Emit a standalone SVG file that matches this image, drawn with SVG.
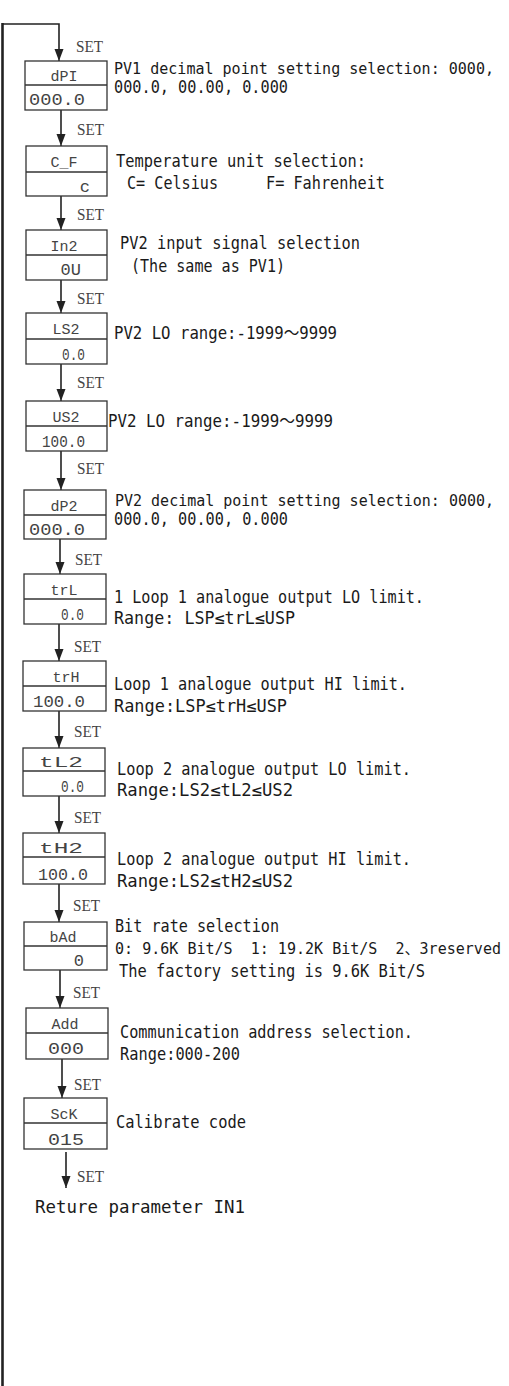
<svg xmlns="http://www.w3.org/2000/svg" width="509" height="1386" viewBox="0 0 509 1386">
<style>
.box{fill:#fff;stroke:#333;stroke-width:1.3}
.div{stroke:#333;stroke-width:1.3}
.con{fill:none;stroke:#222;stroke-width:1.6}
.set{font-family:"Liberation Serif",serif;font-size:17px;fill:#444}
.t{font-family:"DejaVu Sans Mono","Noto Sans CJK SC",monospace;font-size:17px;fill:#1a1a1a;white-space:pre}
.long{font-size:15.5px}
.lbl{font-family:"Liberation Mono",monospace;font-size:15px;fill:#444;text-anchor:middle}
.val{font-family:"Liberation Mono",monospace;font-size:17px;fill:#444;text-anchor:end}
</style>
<defs>
<marker id="ah" markerUnits="userSpaceOnUse" markerWidth="10" markerHeight="13" refX="12" refY="5" orient="auto">
<path d="M0,0.5 L12,5 L0,9.5 Z" fill="#222"/>
</marker>
</defs>
<g id="connectors">
<line x1="2.5" y1="23" x2="2.5" y2="1386" stroke="#222" stroke-width="2.6"/>
<path class="con" d="M2,24 H59 V61" marker-end="url(#ah)"/>
<line class="con" x1="61" y1="110" x2="61" y2="146" marker-end="url(#ah)"/>
<line class="con" x1="61" y1="196" x2="61" y2="230" marker-end="url(#ah)"/>
<line class="con" x1="61" y1="280" x2="61" y2="313" marker-end="url(#ah)"/>
<line class="con" x1="61" y1="364" x2="61" y2="401" marker-end="url(#ah)"/>
<line class="con" x1="61" y1="451" x2="61" y2="490" marker-end="url(#ah)"/>
<line class="con" x1="60" y1="539" x2="60" y2="574" marker-end="url(#ah)"/>
<line class="con" x1="59" y1="624" x2="59" y2="661" marker-end="url(#ah)"/>
<line class="con" x1="59" y1="711" x2="59" y2="748" marker-end="url(#ah)"/>
<line class="con" x1="59" y1="796" x2="59" y2="833" marker-end="url(#ah)"/>
<line class="con" x1="59" y1="884" x2="59" y2="922" marker-end="url(#ah)"/>
<line class="con" x1="60" y1="970" x2="60" y2="1008" marker-end="url(#ah)"/>
<line class="con" x1="62" y1="1059" x2="62" y2="1098" marker-end="url(#ah)"/>
<line class="con" x1="66" y1="1152" x2="66" y2="1188" marker-end="url(#ah)"/>
<text class="set" x="76" y="52" textLength="27" lengthAdjust="spacingAndGlyphs">SET</text>
<text class="set" x="77" y="135" textLength="27" lengthAdjust="spacingAndGlyphs">SET</text>
<text class="set" x="77" y="220" textLength="27" lengthAdjust="spacingAndGlyphs">SET</text>
<text class="set" x="77" y="304" textLength="27" lengthAdjust="spacingAndGlyphs">SET</text>
<text class="set" x="77" y="388" textLength="27" lengthAdjust="spacingAndGlyphs">SET</text>
<text class="set" x="77" y="474" textLength="27" lengthAdjust="spacingAndGlyphs">SET</text>
<text class="set" x="75" y="565" textLength="27" lengthAdjust="spacingAndGlyphs">SET</text>
<text class="set" x="74" y="652" textLength="27" lengthAdjust="spacingAndGlyphs">SET</text>
<text class="set" x="74" y="737" textLength="27" lengthAdjust="spacingAndGlyphs">SET</text>
<text class="set" x="74" y="823" textLength="27" lengthAdjust="spacingAndGlyphs">SET</text>
<text class="set" x="73" y="911" textLength="27" lengthAdjust="spacingAndGlyphs">SET</text>
<text class="set" x="73" y="998" textLength="27" lengthAdjust="spacingAndGlyphs">SET</text>
<text class="set" x="74" y="1090" textLength="27" lengthAdjust="spacingAndGlyphs">SET</text>
<text class="set" x="77" y="1182" textLength="27" lengthAdjust="spacingAndGlyphs">SET</text>
</g>
<g id="n-dPI">
<rect class="box" x="25" y="61" width="82" height="49"/><line class="div" x1="25" y1="85" x2="107" y2="85"/>
<text class="lbl" x="64" y="81">dPI</text><text class="val" x="85" y="105" textLength="56" lengthAdjust="spacingAndGlyphs">000.0</text>
<text class="t long" x="114" y="74" textLength="380" lengthAdjust="spacingAndGlyphs">PV1 decimal point setting selection: 0000,</text>
<text class="t" x="114" y="93" textLength="174" lengthAdjust="spacingAndGlyphs">000.0, 00.00, 0.000</text>
</g>
<g id="n-CF">
<rect class="box" x="26" y="146" width="81" height="50"/><line class="div" x1="26" y1="172" x2="107" y2="172"/>
<text class="lbl" x="64" y="167">C_F</text><text class="val" x="90" y="192">c</text>
<text class="t" x="116" y="167" textLength="250" lengthAdjust="spacingAndGlyphs">Temperature unit selection:</text>
<text class="t" x="127" y="189" textLength="91" lengthAdjust="spacingAndGlyphs">C= Celsius</text>
<text class="t" x="266" y="189" textLength="119" lengthAdjust="spacingAndGlyphs">F= Fahrenheit</text>
</g>
<g id="n-In2">
<rect class="box" x="26" y="230" width="81" height="50"/><line class="div" x1="26" y1="255" x2="107" y2="255"/>
<text class="lbl" x="64" y="251">In2</text><text class="val" x="81" y="275">0U</text>
<text class="t" x="120" y="249" textLength="240" lengthAdjust="spacingAndGlyphs">PV2 input signal selection</text>
<text class="t" x="131" y="272" textLength="154" lengthAdjust="spacingAndGlyphs">(The same as PV1)</text>
</g>
<g id="n-LS2">
<rect class="box" x="26" y="313" width="81" height="51"/><line class="div" x1="26" y1="339" x2="107" y2="339"/>
<text class="lbl" x="66" y="334">LS2</text><text class="val" x="85" y="360" textLength="23" lengthAdjust="spacingAndGlyphs">0.0</text>
<text class="t" x="114" y="339" textLength="223" lengthAdjust="spacingAndGlyphs">PV2 LO range:-1999～9999</text>
</g>
<g id="n-US2">
<rect class="box" x="26" y="401" width="81" height="50"/><line class="div" x1="26" y1="426" x2="107" y2="426"/>
<text class="lbl" x="66" y="422">US2</text><text class="val" x="85" y="447" textLength="43" lengthAdjust="spacingAndGlyphs">100.0</text>
<text class="t" x="108" y="427" textLength="225" lengthAdjust="spacingAndGlyphs">PV2 LO range:-1999～9999</text>
</g>
<g id="n-dP2">
<rect class="box" x="24" y="490" width="82" height="49"/><line class="div" x1="24" y1="515" x2="106" y2="515"/>
<text class="lbl" x="64" y="511">dP2</text><text class="val" x="85" y="535" textLength="56" lengthAdjust="spacingAndGlyphs">000.0</text>
<text class="t long" x="115" y="506" textLength="379" lengthAdjust="spacingAndGlyphs">PV2 decimal point setting selection: 0000,</text>
<text class="t" x="114" y="525" textLength="174" lengthAdjust="spacingAndGlyphs">000.0, 00.00, 0.000</text>
</g>
<g id="n-trL">
<rect class="box" x="24" y="574" width="82" height="50"/><line class="div" x1="24" y1="599" x2="106" y2="599"/>
<text class="lbl" x="64" y="595">trL</text><text class="val" x="84" y="620" textLength="23" lengthAdjust="spacingAndGlyphs">0.0</text>
<text class="t" x="114" y="603" textLength="310" lengthAdjust="spacingAndGlyphs">1 Loop 1 analogue output LO limit.</text>
<text class="t" x="114" y="624" textLength="181" lengthAdjust="spacingAndGlyphs">Range: LSP≤trL≤USP</text>
</g>
<g id="n-trH">
<rect class="box" x="23" y="661" width="83" height="50"/><line class="div" x1="23" y1="686" x2="106" y2="686"/>
<text class="lbl" x="66" y="682">trH</text><text class="val" x="85" y="707" textLength="52" lengthAdjust="spacingAndGlyphs">100.0</text>
<text class="t" x="114" y="690" textLength="293" lengthAdjust="spacingAndGlyphs">Loop 1 analogue output HI limit.</text>
<text class="t" x="114" y="712" textLength="173" lengthAdjust="spacingAndGlyphs">Range:LSP≤trH≤USP</text>
</g>
<g id="n-tL2">
<rect class="box" x="23" y="748" width="82" height="48"/><line class="div" x1="23" y1="771" x2="105" y2="771"/>
<text class="lbl" x="61" y="767" textLength="44" lengthAdjust="spacingAndGlyphs">tL2</text><text class="val" x="84" y="792" textLength="23" lengthAdjust="spacingAndGlyphs">0.0</text>
<text class="t" x="117" y="775" textLength="294" lengthAdjust="spacingAndGlyphs">Loop 2 analogue output LO limit.</text>
<text class="t" x="117" y="796" textLength="176" lengthAdjust="spacingAndGlyphs">Range:LS2≤tL2≤US2</text>
</g>
<g id="n-tH2">
<rect class="box" x="23" y="833" width="82" height="51"/><line class="div" x1="23" y1="857" x2="105" y2="857"/>
<text class="lbl" x="61" y="853" textLength="44" lengthAdjust="spacingAndGlyphs">tH2</text><text class="val" x="88" y="880" textLength="50" lengthAdjust="spacingAndGlyphs">100.0</text>
<text class="t" x="117" y="865" textLength="294" lengthAdjust="spacingAndGlyphs">Loop 2 analogue output HI limit.</text>
<text class="t" x="117" y="887" textLength="176" lengthAdjust="spacingAndGlyphs">Range:LS2≤tH2≤US2</text>
</g>
<g id="n-bAd">
<rect class="box" x="24" y="922" width="83" height="48"/><line class="div" x1="24" y1="946" x2="107" y2="946"/>
<text class="lbl" x="63" y="942">bAd</text><text class="val" x="84" y="966">0</text>
<text class="t" x="115" y="932" textLength="164" lengthAdjust="spacingAndGlyphs">Bit rate selection</text>
<text class="t" x="115" y="954" font-size="15" style="font-size:15px" textLength="386" lengthAdjust="spacingAndGlyphs" xml:space="preserve">0: 9.6K Bit/S  1: 19.2K Bit/S  2、3reserved</text>
<text class="t" x="119" y="977" textLength="306" lengthAdjust="spacingAndGlyphs">The factory setting is 9.6K Bit/S</text>
</g>
<g id="n-Add">
<rect class="box" x="26" y="1008" width="82" height="51"/><line class="div" x1="26" y1="1033" x2="108" y2="1033"/>
<text class="lbl" x="65" y="1029">Add</text><text class="val" x="84" y="1054" textLength="36" lengthAdjust="spacingAndGlyphs">000</text>
<text class="t" x="120" y="1038" textLength="293" lengthAdjust="spacingAndGlyphs">Communication address selection.</text>
<text class="t" x="120" y="1060" textLength="120" lengthAdjust="spacingAndGlyphs">Range:000-200</text>
</g>
<g id="n-ScK">
<rect class="box" x="24" y="1098" width="83" height="51"/><line class="div" x1="24" y1="1123" x2="107" y2="1123"/>
<text class="lbl" x="64" y="1119">ScK</text><text class="val" x="84" y="1145" textLength="36" lengthAdjust="spacingAndGlyphs">015</text>
<text class="t" x="116" y="1128" textLength="130" lengthAdjust="spacingAndGlyphs">Calibrate code</text>
</g>
<g id="n-return">
<text class="t" x="35" y="1213" font-size="18" textLength="210" lengthAdjust="spacingAndGlyphs">Reture parameter IN1</text>
</g>
</svg>
